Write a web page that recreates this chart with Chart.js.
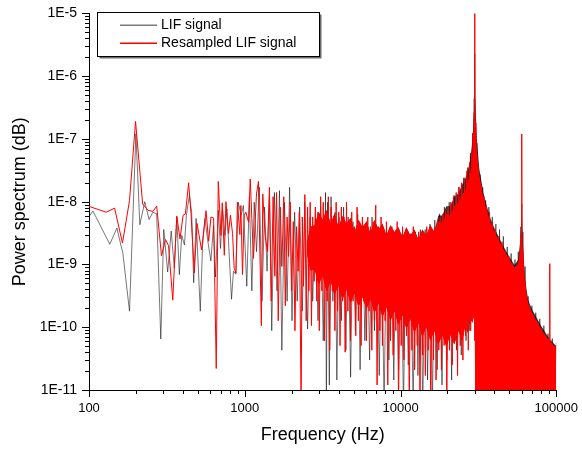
<!DOCTYPE html>
<html>
<head>
<meta charset="utf-8">
<script src="https://cdn.jsdelivr.net/npm/chart.js@4.4.1/dist/chart.umd.min.js"></script>
<style>
  html, body { margin: 0; padding: 0; background: #fff; }
  #wrap { width: 582px; height: 451px; }
</style>
</head>
<body>
<div id="wrap"><canvas id="chart" width="582" height="451"></canvas></div>
<script>
// [frequency (Hz), power]
const lifSignal = [
  [96, 5.0e-9], [106, 7.1e-9], [136, 2.1e-9], [151, 3.8e-9], [165, 1.5e-9], [182, 1.8e-10], [200, 1.2e-7],
  [212, 4.3e-9], [228, 1.0e-8], [243, 5.2e-9], [257, 6.8e-9], [272, 6.4e-9], [289, 6.5e-11], [302, 3.6e-9],
  [320, 7.6e-10], [337, 3.4e-9], [353, 8.7e-10], [366, 5.7e-9], [380, 6.9e-10], [394, 2.9e-9], [410, 2.05e-9],
  [422, 6.1e-9], [441, 1.25e-8], [456, 6.8e-9], [470, 5.1e-10], [487, 5.4e-9], [518, 1.8e-10], [536, 2.05e-9],
  [555, 5.4e-9], [577, 2.5e-9], [606, 1.14e-9], [630, 4.2e-9], [649, 6.3e-10], [676, 7.3e-9], [699, 1.8e-9],
  [720, 7.9e-9], [746, 2.9e-9], [768, 7.7e-9], [786, 2.4e-9], [822, 2.8e-10], [846, 7.8e-10], [877, 7.0e-10],
  [908, 9.8e-9], [948, 6.1e-9], [980, 8.7e-9], [1030, 4.5e-10], [1070, 1.2e-8], [1110, 3.8e-10], [1150, 9.8e-9],
  [1190, 1.6e-9], [1240, 1.7e-8], [1290, 2.6e-10], [1340, 8.2e-9], [1390, 7.8e-10], [1440, 1.2e-8], [1490, 8.8e-11],
  [1550, 1.4e-8], [1610, 3.8e-10], [1670, 1.5e-8], [1730, 4.3e-11], [1800, 9.8e-9], [1870, 2.6e-10], [1940, 1.7e-8],
  [2010, 1.27e-10], [2090, 6.8e-9], [2170, 2.6e-10], [2250, 8.2e-9], [2340, 1.8e-10], [2430, 9.8e-9], [2530, 9.4e-11],
  [2630, 5.7e-9], [2730, 2.6e-10], [2840, 6.8e-9], [2950, 1.27e-10], [3070, 8.2e-9], [3190, 6.1e-11], [3300, 1.4e-8],
  [3340, 5e-12], [3400, 9.8e-9], [3490, 1.2e-11], [3580, 1.2e-8], [3680, 2.6e-10], [3800, 6.8e-9], [3900, 1.44e-11],
  [4030, 5.7e-9], [4170, 1.27e-10], [4310, 8.2e-9], [4460, 4.3e-11], [4610, 5.7e-9], [4780, 1.6e-11], [4950, 4.8e-9],
  [5130, 8.8e-11], [5310, 6.4e-9], [5500, 2.1e-11], [5700, 4.8e-9], [5900, 6.1e-11], [6110, 4.0e-9], [6330, 3.0e-11],
  [6560, 5.7e-9], [6800, 8.8e-11], [7050, 4.0e-9], [7300, 1.7e-11], [7570, 3.3e-9], [7840, 5e-12], [8130, 4.0e-9],
  [8420, 3.0e-11], [8730, 3.1e-9], [9050, 1.44e-11], [9380, 3.6e-9], [9720, 2.1e-11], [10070, 3.1e-9], [10440, 5e-12],
  [10820, 2.8e-9], [11210, 2.5e-11], [11620, 3.1e-9], [12040, 5e-12], [12480, 3.3e-9], [12930, 1.7e-11], [13400, 3.6e-9],
  [13890, 5e-12], [14390, 3.6e-9], [14910, 1.44e-11], [15450, 4.4e-9], [16010, 5e-12], [16590, 5.1e-9], [17190, 2.1e-11],
  [17810, 6.4e-9], [18460, 1.2e-11], [19130, 8.2e-9], [19820, 3.0e-11], [20540, 9.8e-9], [21280, 1.44e-11], [22050, 1.27e-8],
  [22850, 4.3e-11], [23680, 1.7e-8], [24540, 3.6e-11], [25430, 2.4e-8], [26350, 6.1e-11], [27000, 3.5e-8], [27600, 8.8e-11],
  [28100, 6.0e-8], [28600, 1.27e-10], [29000, 1.24e-7], [29400, 2.6e-10], [29700, 4.4e-7], [29900, 3.8e-10], [30000, 2.26e-6],
  [30100, 1.8e-7], [30300, 8.8e-11], [30600, 8.6e-8], [30900, 1.2e-11], [31300, 4.2e-8], [31800, 1.44e-11], [32400, 2.7e-8],
  [33000, 5e-12], [33700, 1.7e-8], [34400, 1.7e-11], [35200, 1.05e-8], [36000, 5e-12], [36900, 8.2e-9], [37800, 1.2e-11],
  [38800, 5.7e-9], [39800, 5e-12], [40900, 4.4e-9], [42000, 5e-12], [43200, 3.6e-9], [44400, 5e-12], [45700, 2.8e-9],
  [47000, 5e-12], [48400, 1.9e-9], [49800, 5e-12], [51300, 1.5e-9], [52800, 5e-12], [54300, 1.2e-9], [55800, 5e-12],
  [57000, 1.6e-9], [58300, 5e-12], [59200, 4.0e-9], [59700, 5e-12], [60000, 9.2e-9], [60400, 5e-12], [61000, 3.3e-9],
  [62000, 5e-12], [63000, 9.3e-10], [64500, 5e-12], [66000, 3.1e-10], [67800, 5e-12], [69700, 2.2e-10], [71700, 5e-12],
  [73800, 1.7e-10], [76000, 5e-12], [78300, 1.36e-10], [80700, 5e-12], [83200, 1.06e-10], [85800, 5e-12], [88500, 7.9e-11],
  [91300, 5e-12], [94200, 6.6e-11], [97100, 5e-12], [100000, 5.7e-11]
];

const resampledSignal = [
  [95, 8.8e-9], [129, 6.8e-9], [146, 7.9e-9], [164, 2.2e-9], [182, 1.04e-8], [199, 1.9e-7], [221, 9.2e-9],
  [239, 7.3e-9], [257, 7.0e-9], [272, 8.5e-9], [292, 1.38e-9], [310, 2.5e-9], [324, 2.0e-9], [345, 2.7e-10],
  [366, 5.9e-9], [384, 2.55e-9], [402, 6.1e-9], [416, 6.4e-9], [436, 2.0e-8], [452, 6.4e-9], [474, 7.3e-10],
  [494, 4.5e-9], [528, 1.7e-9], [564, 7.2e-9], [586, 2.35e-9], [607, 5.7e-9], [631, 5.5e-9], [656, 2.2e-11],
  [676, 2.1e-8], [703, 2.9e-9], [717, 9.6e-9], [739, 1.4e-9], [757, 1.0e-8], [786, 3.1e-9], [809, 6.1e-9],
  [835, 3.1e-9], [855, 8.7e-10], [877, 7.3e-10], [897, 9.8e-9], [930, 3.0e-9], [944, 8.7e-9], [967, 6.9e-10],
  [991, 6.1e-9], [1016, 6.8e-9], [1058, 4.7e-9], [1084, 2.3e-8], [1110, 5.4e-9], [1137, 1.25e-9], [1189, 1.33e-8],
  [1224, 2.1e-8], [1278, 1.06e-10], [1305, 1.33e-8], [1350, 3.0e-9], [1397, 1.6e-9], [1440, 1.7e-8], [1480, 2.6e-10],
  [1520, 1.2e-8], [1560, 6.5e-10], [1600, 1.4e-8], [1640, 1.27e-10], [1690, 8.2e-9], [1730, 9.3e-10], [1780, 1.2e-8],
  [1820, 2.2e-10], [1870, 5.7e-9], [1910, 1.34e-9], [1960, 9.8e-9], [2000, 3.8e-10], [2050, 4.8e-9], [2100, 8.8e-11],
  [2150, 4.0e-9], [2200, 7.8e-10], [2240, 6.8e-9], [2300, 5e-12], [2340, 5.7e-9], [2380, 4.5e-10], [2430, 1.3e-8],
  [2480, 1.27e-10], [2530, 8.2e-9], [2580, 3.8e-10], [2630, 9.8e-9], [2680, 1.06e-10], [2730, 5.7e-9], [2790, 5.4e-10],
  [2840, 8.2e-9], [2900, 2.6e-10], [2950, 6.8e-9], [3010, 8.8e-11], [3070, 1.2e-8], [3130, 3.8e-10], [3190, 9.8e-9],
  [3250, 6.1e-11], [3310, 6.8e-9], [3380, 2.6e-10], [3440, 1.2e-8], [3510, 4.3e-11], [3580, 8.2e-9], [3650, 3.8e-10],
  [3720, 5.7e-9], [3790, 8.8e-11], [3860, 9.8e-9], [3940, 1.8e-10], [4010, 6.8e-9], [4090, 5.1e-11], [4170, 8.2e-9],
  [4250, 2.6e-10], [4330, 5.7e-9], [4410, 4.0e-11], [4500, 9.8e-9], [4590, 1.8e-10], [4680, 4.8e-9], [4770, 6.1e-11],
  [4860, 6.8e-9], [4960, 2.6e-10], [5060, 4.0e-9], [5160, 7.3e-11], [5260, 8.2e-9], [5360, 1.27e-10], [5470, 4.8e-9],
  [5580, 5.1e-11], [5690, 5.7e-9], [5800, 2.6e-10], [5920, 3.3e-9], [6040, 6.1e-11], [6160, 5.7e-9], [6280, 1.8e-10],
  [6410, 4.0e-9], [6540, 4.3e-11], [6670, 4.8e-9], [6800, 1.27e-10], [6930, 8.8e-9], [7070, 1.2e-11], [7210, 4.0e-9],
  [7360, 8.8e-11], [7500, 5.7e-9], [7650, 5.1e-11], [7800, 3.3e-9], [7960, 1.27e-10], [8120, 4.8e-9], [8280, 1.2e-11],
  [8450, 2.8e-9], [8620, 6.1e-11], [8790, 4.0e-9], [8970, 3.6e-11], [9150, 2.8e-9], [9330, 8.8e-11], [9520, 4.8e-9],
  [9710, 5e-12], [9900, 2.3e-9], [10100, 5.1e-11], [10300, 4.0e-9], [10510, 3.0e-11], [10720, 2.3e-9], [10930, 7.3e-11],
  [11150, 3.3e-9], [11380, 5e-12], [11600, 2.3e-9], [11840, 4.3e-11], [12080, 4.0e-9], [12320, 2.1e-11], [12560, 2.3e-9],
  [12810, 5.1e-11], [13070, 3.3e-9], [13330, 5e-12], [13600, 2.8e-9], [13870, 3.6e-11], [14150, 2.3e-9], [14430, 1.7e-11],
  [14720, 4.0e-9], [15020, 4.3e-11], [15320, 2.5e-9], [15620, 5e-12], [15940, 3.3e-9], [16260, 3.0e-11], [16580, 4.0e-9],
  [16910, 1.44e-11], [17250, 4.8e-9], [17600, 4.3e-11], [17950, 5.7e-9], [18310, 2.1e-11], [18680, 6.4e-9], [19050, 5.1e-11],
  [19430, 7.3e-9], [19820, 5e-12], [20220, 8.2e-9], [20620, 4.3e-11], [21040, 9.8e-9], [21460, 2.5e-11], [21890, 1.2e-8],
  [22330, 6.1e-11], [22770, 1.4e-8], [23230, 1.7e-11], [23690, 1.7e-8], [24170, 5.1e-11], [24650, 2.0e-8], [25140, 3.0e-11],
  [25650, 2.4e-8], [26160, 7.3e-11], [26680, 3.1e-8], [27220, 4.3e-11], [27760, 4.2e-8], [28200, 8.8e-11], [28600, 6.0e-8],
  [28900, 1.27e-10], [29200, 1.24e-7], [29500, 1.8e-10], [29700, 2.6e-7], [29850, 6.1e-11], [29950, 1.57e-6], [30000, 1e-5],
  [30050, 7.6e-7], [30150, 1.27e-10], [30300, 1.8e-7], [30500, 5e-12], [30700, 6.0e-8], [31000, 5e-12], [31300, 3.5e-8],
  [31700, 5e-12], [32100, 2.4e-8], [32600, 5e-12], [33100, 1.7e-8], [33700, 5e-12], [34300, 1.2e-8], [35000, 5e-12],
  [35700, 8.2e-9], [36400, 5e-12], [37200, 6.8e-9], [38000, 5e-12], [38800, 4.8e-9], [39700, 5e-12], [40600, 3.6e-9],
  [41600, 5e-12], [42600, 2.8e-9], [43700, 5e-12], [44800, 2.3e-9], [46000, 5e-12], [47200, 1.6e-9], [48400, 5e-12],
  [49700, 1.34e-9], [51000, 5e-12], [52300, 1.03e-9], [53500, 5e-12], [54800, 8.3e-10], [56000, 5e-12], [57200, 1.11e-9],
  [58300, 5e-12], [59200, 2.8e-9], [59700, 5e-12], [60000, 1.2e-7], [60300, 5e-12], [60900, 1.6e-9], [61800, 5e-12],
  [62800, 5.4e-10], [64000, 5e-12], [65500, 2.6e-10], [67000, 5e-12], [68700, 1.8e-10], [70400, 5e-12], [72200, 1.36e-10],
  [74100, 5e-12], [76000, 1.18e-10], [78000, 5e-12], [80000, 8.8e-11], [82200, 5e-12], [84400, 7.3e-11], [86600, 5e-12],
  [88800, 6.6e-11], [90500, 5e-12], [90800, 1.03e-9], [91100, 5e-12], [93500, 5.7e-11], [96000, 5e-12], [98500, 5.1e-11],
  [100000, 5.1e-11]
];

// dense high-frequency part: solid core between these ragged envelopes
const bandFreq = [2500, 2650, 2810, 2980, 3160, 3350, 3560, 3770, 4000, 4240, 4500, 4780, 5070, 5370, 5700, 6050,
  6410, 6800, 7220, 7650, 8120, 8610, 9130, 9690, 10280, 10900, 11560, 12270, 13010, 13800, 14640, 15530, 16480,
  17480, 18540, 19670, 20860, 22130, 23480, 24900, 26000, 27000, 28000, 29000, 29500, 30000,
  30500, 31000, 32000, 34000, 36000, 38000, 40000, 45000, 50000, 54000, 57000, 59000, 60000, 61000, 63000, 66000,
  70000, 80000, 90000, 100000];
const resTop = [2.2e-9, 4.0e-9, 4.2e-9, 6.9e-9, 5.1e-9, 7.4e-9, 4.5e-9, 6.5e-9, 3.9e-9, 5.9e-9, 4.5e-9, 5.5e-9,
  3.3e-9, 5.1e-9, 3.9e-9, 4.9e-9, 3.1e-9, 5.1e-9, 3.6e-9, 4.5e-9, 2.9e-9, 4.2e-9, 3.3e-9, 3.9e-9, 2.7e-9,
  3.9e-9, 2.9e-9, 3.6e-9, 2.5e-9, 3.6e-9, 2.9e-9, 4.2e-9, 3.3e-9, 4.9e-9, 4.5e-9, 6.5e-9, 5.9e-9, 8.5e-9,
  9.5e-9, 1.3e-8, 1.5e-8, 2.0e-8, 2.9e-8, 5.6e-8, 1.04e-7, 3.1e-7,
  1.24e-7, 6.0e-8, 2.7e-8, 1.2e-8, 6.8e-9, 4.4e-9, 3.3e-9, 1.9e-9, 1.2e-9, 9.0e-10, 1.03e-9, 2.1e-9, 2.9e-9, 1.7e-9,
  5.0e-10, 2.4e-10, 1.7e-10, 9.4e-11, 6.1e-11, 4.6e-11];
const lifTop = [2.2e-9, 4.0e-9, 4.2e-9, 6.9e-9, 5.1e-9, 7.4e-9, 4.5e-9, 6.5e-9, 3.9e-9, 5.9e-9, 4.5e-9, 5.5e-9,
  3.3e-9, 5.1e-9, 3.9e-9, 4.9e-9, 3.1e-9, 5.1e-9, 3.6e-9, 4.5e-9, 2.9e-9, 4.2e-9, 3.3e-9, 3.9e-9, 2.7e-9,
  3.9e-9, 2.9e-9, 3.6e-9, 2.5e-9, 3.6e-9, 2.9e-9, 4.2e-9, 3.3e-9, 6.0e-9, 6.0e-9, 8.5e-9, 8.5e-9, 1.2e-8,
  1.35e-8, 1.9e-8, 2.3e-8, 3.1e-8, 4.6e-8, 1.0e-7, 2.4e-7, 5.5e-7,
  2.2e-7, 9.0e-8, 3.4e-8, 1.4e-8, 8.0e-9, 5.2e-9, 3.8e-9, 2.1e-9, 1.32e-9, 9.8e-10, 1.2e-9, 2.8e-9, 6.5e-9, 2.2e-9,
  5.8e-10, 2.7e-10, 1.9e-10, 1.05e-10, 6.6e-11, 5.0e-11];
const coreBottom = [1.5e-9, 8.0e-10, 8.3e-10, 4.7e-10, 6.7e-10, 3.76e-10, 5.4e-10, 3.25e-10, 4.7e-10, 2.8e-10,
  4.0e-10, 2.43e-10, 3.5e-10, 2.1e-10, 3.0e-10, 1.95e-10, 2.8e-10, 1.69e-10, 2.43e-10, 1.46e-10, 2.1e-10, 1.27e-10,
  1.82e-10, 1.1e-10, 1.57e-10, 9.5e-11, 1.36e-10, 8.2e-11, 1.18e-10, 7.1e-11, 1.02e-10, 6.1e-11, 8.8e-11, 5.3e-11,
  7.6e-11, 4.9e-11, 7.6e-11, 5.3e-11, 8.8e-11, 6.1e-11, 1.02e-10, 8.2e-11, 1.36e-10, 1.18e-10, 1.52e-10, 8.8e-11,
  5e-12, 5e-12, 5e-12, 5e-12, 5e-12, 5e-12, 5e-12, 5e-12, 5e-12, 5e-12, 5e-12, 5e-12, 5e-12, 5e-12, 5e-12, 5e-12,
  5e-12, 5e-12, 5e-12, 5e-12];

const FONT = 'Liberation Sans, Arial, Helvetica, sans-serif';
const RED = 'rgb(255,0,0)';
const GREY = 'rgba(0,0,0,0.6)';
const legendItems = [
  { label: 'LIF signal', color: 'rgb(122,122,122)' },
  { label: 'Resampled LIF signal', color: RED }
];

const pairs = list => list.map(p => ({ x: p[0], y: p[1] }));
const band = vals => bandFreq.map((f, i) => ({ x: f, y: vals[i] }));

/* 1 -> major, 2..9 -> minor, anything else -> none */
function tickKind(v) {
  const e = Math.floor(Math.log10(v) + 1e-9);
  const m = v / Math.pow(10, e);
  if (Math.abs(m - 1) < 1e-6) return 'major';
  if (Math.abs(m - Math.round(m)) < 1e-6) return 'minor';
  return null;
}

// tick marks outside the axes, long for decades, short for 2..9
const tickMarks = {
  id: 'tickMarks',
  afterDraw(chart) {
    const { ctx, chartArea: area, scales } = chart;
    ctx.save();
    ctx.strokeStyle = '#000';
    ctx.lineWidth = 1;
    ctx.beginPath();
    scales.x.ticks.forEach(t => {
      const k = tickKind(t.value);
      if (!k) return;
      const px = Math.round(scales.x.getPixelForValue(t.value)) + 0.5;
      ctx.moveTo(px, area.bottom);
      ctx.lineTo(px, area.bottom + (k === 'major' ? 7 : 4));
    });
    scales.y.ticks.forEach(t => {
      const k = tickKind(t.value);
      if (!k) return;
      const py = Math.round(scales.y.getPixelForValue(t.value)) + 0.5;
      ctx.moveTo(area.left, py);
      ctx.lineTo(area.left - (k === 'major' ? 7 : 4), py);
    });
    ctx.stroke();
    ctx.restore();
  }
};

// framed legend in the upper left corner of the plot
const legendBox = {
  id: 'legendBox',
  afterDraw(chart) {
    const ctx = chart.ctx;
    const x = 97.5, y = 12.5, w = 222, h = 44;
    ctx.save();
    ctx.fillStyle = '#6a6a6a';
    ctx.fillRect(x + 2, y + 2, w, h);
    ctx.fillStyle = '#fff';
    ctx.fillRect(x, y, w, h);
    ctx.strokeStyle = '#000';
    ctx.lineWidth = 1;
    ctx.strokeRect(x, y, w, h);
    ctx.font = '14px ' + FONT;
    ctx.textBaseline = 'middle';
    ctx.textAlign = 'left';
    for (let i = 0; i < legendItems.length; i++) {
      const ly = 25 + i * 18;
      ctx.fillStyle = legendItems[i].color;
      ctx.fillRect(120, ly - 0.5, 37, 1.5);
    }
    ctx.fillStyle = '#000';
    for (let i = 0; i < legendItems.length; i++) {
      ctx.fillText(legendItems[i].label, 161, 25 + i * 18);
    }
    ctx.restore();
  }
};

const common = { pointRadius: 0, pointHoverRadius: 0, tension: 0, clip: 0, borderJoinStyle: 'bevel' };

new Chart(document.getElementById('chart'), {
  type: 'line',
  data: {
    datasets: [
      Object.assign({ label: legendItems[0].label, data: pairs(lifSignal), borderColor: GREY,
        borderWidth: 0.9, fill: false, order: 2 }, common),
      Object.assign({ data: band(lifTop), borderColor: 'rgba(0,0,0,0)', borderWidth: 1,
        backgroundColor: 'rgba(0,0,0,0.8)', fill: { target: 2 }, order: 3 }, common),
      Object.assign({ data: band(coreBottom), borderColor: 'rgba(0,0,0,0)', borderWidth: 1, fill: false, order: 3 }, common),
      Object.assign({ label: legendItems[1].label, data: pairs(resampledSignal), borderColor: RED,
        borderWidth: 1, fill: false, order: 0 }, common),
      Object.assign({ data: band(resTop), borderColor: 'rgba(0,0,0,0)', borderWidth: 1,
        backgroundColor: RED, fill: { target: 5 }, order: 1 }, common),
      Object.assign({ data: band(coreBottom), borderColor: 'rgba(0,0,0,0)', borderWidth: 1, fill: false, order: 1 }, common)
    ]
  },
  options: {
    responsive: false,
    animation: false,
    events: [],
    layout: { padding: { left: 0, right: 24, top: 9, bottom: 0 } },
    plugins: { legend: { display: false }, tooltip: { enabled: false } },
    scales: {
      x: {
        type: 'logarithmic',
        min: 100,
        max: 100000,
        afterFit: s => { s.height = 61; },
        border: { display: true, color: '#000', width: 1 },
        grid: { display: false, drawTicks: true, tickLength: 7 },
        ticks: {
          autoSkip: false, maxRotation: 0, minRotation: 0, padding: 4, color: '#000',
          font: { family: FONT, size: 13 },
          callback: v => tickKind(v) === 'major' ? String(Math.round(v)) : ''
        },
        title: { display: true, text: 'Frequency (Hz)', color: '#000',
          font: { family: FONT, size: 18 }, padding: { top: 0, bottom: 5 } }
      },
      y: {
        type: 'logarithmic',
        min: 1e-11,
        max: 1e-5,
        afterFit: s => { s.width = 89; },
        border: { display: true, color: '#000', width: 1 },
        grid: { display: false, drawTicks: true, tickLength: 7 },
        ticks: {
          autoSkip: false, padding: 5, color: '#000',
          font: { family: FONT, size: 14 },
          callback: v => tickKind(v) === 'major' ? '1E' + Math.round(Math.log10(v)) : ''
        },
        title: { display: true, text: 'Power spectrum (dB)', color: '#000',
          font: { family: FONT, size: 18 }, padding: { top: 9, bottom: 0 } }
      }
    }
  },
  plugins: [tickMarks, legendBox]
});
</script>
</body>
</html>
